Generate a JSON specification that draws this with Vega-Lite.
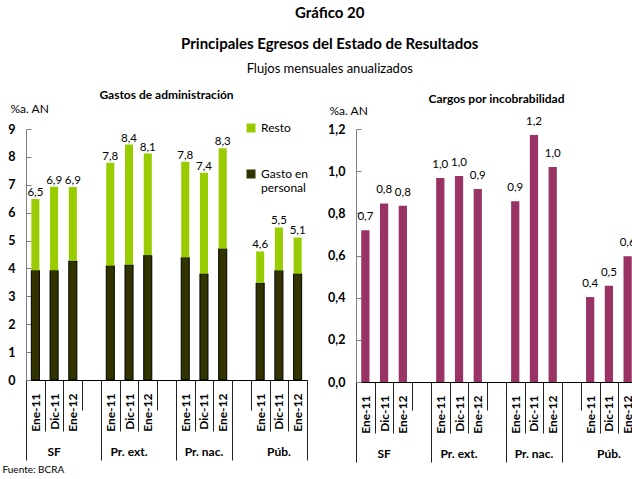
{
  "$schema": "https://vega.github.io/schema/vega-lite/v6.json",
  "padding": {"left": 2, "top": 6, "right": 0, "bottom": 0},
  "config": {
    "font": "Lato",
    "view": {"stroke": null},
    "locale": {"number": {"decimal": ",", "thousands": ".", "grouping": [3], "currency": ["$", ""]}},
    "axis": {"labelColor": "#000", "titleColor": "#000", "grid": false},
    "title": {"color": "#000", "subtitleColor": "#000"}
  },
  "title": {
    "text": ["Gráfico 20", "Principales Egresos del Estado de Resultados"],
    "subtitle": "Flujos mensuales anualizados",
    "fontSize": 15, "fontWeight": "bold", "lineHeight": 31,
    "subtitleFontSize": 13, "subtitleFontWeight": "normal", "subtitlePadding": 11,
    "anchor": "middle", "dx": 10, "offset": 13
  },
  "spacing": 19,
  "datasets": {
    "gastos": [
      {"grupo": "SF", "mes": "Ene-11", "personal": 3.93, "total": 6.49},
      {"grupo": "SF", "mes": "Dic-11", "personal": 3.93, "total": 6.93},
      {"grupo": "SF", "mes": "Ene-12", "personal": 4.27, "total": 6.92},
      {"grupo": "Pr. ext.", "mes": "Ene-11", "personal": 4.10, "total": 7.79},
      {"grupo": "Pr. ext.", "mes": "Dic-11", "personal": 4.13, "total": 8.44},
      {"grupo": "Pr. ext.", "mes": "Ene-12", "personal": 4.47, "total": 8.12},
      {"grupo": "Pr. nac.", "mes": "Ene-11", "personal": 4.39, "total": 7.83},
      {"grupo": "Pr. nac.", "mes": "Dic-11", "personal": 3.81, "total": 7.43},
      {"grupo": "Pr. nac.", "mes": "Ene-12", "personal": 4.71, "total": 8.31},
      {"grupo": "Púb.", "mes": "Ene-11", "personal": 3.48, "total": 4.61},
      {"grupo": "Púb.", "mes": "Dic-11", "personal": 3.93, "total": 5.47},
      {"grupo": "Púb.", "mes": "Ene-12", "personal": 3.81, "total": 5.11}
    ],
    "cargos": [
      {"grupo": "SF", "mes": "Ene-11", "valor": 0.72},
      {"grupo": "SF", "mes": "Dic-11", "valor": 0.847},
      {"grupo": "SF", "mes": "Ene-12", "valor": 0.836},
      {"grupo": "Pr. ext.", "mes": "Ene-11", "valor": 0.968},
      {"grupo": "Pr. ext.", "mes": "Dic-11", "valor": 0.977},
      {"grupo": "Pr. ext.", "mes": "Ene-12", "valor": 0.916},
      {"grupo": "Pr. nac.", "mes": "Ene-11", "valor": 0.857},
      {"grupo": "Pr. nac.", "mes": "Dic-11", "valor": 1.172},
      {"grupo": "Pr. nac.", "mes": "Ene-12", "valor": 1.02},
      {"grupo": "Púb.", "mes": "Ene-11", "valor": 0.403},
      {"grupo": "Púb.", "mes": "Dic-11", "valor": 0.456},
      {"grupo": "Púb.", "mes": "Ene-12", "valor": 0.596}
    ]
  },
  "hconcat": [
    {
      "width": 281, "height": 251,
      "title": {"text": "Gastos de administración", "fontSize": 12, "fontWeight": "bold", "offset": 0},
      "data": {"name": "gastos"},
      "transform": [{"calculate": "datum.grupo + '|' + datum.mes", "as": "cat"}],
      "layer": [
        {
          "mark": {"type": "bar", "width": {"band": 0.43}, "stroke": "#000", "strokeWidth": 1},
          "encoding": {
            "x": {
              "field": "cat", "type": "nominal",
              "scale": {"domain": ["SF|Ene-11", "SF|Dic-11", "SF|Ene-12", "b1", "Pr. ext.|Ene-11", "Pr. ext.|Dic-11", "Pr. ext.|Ene-12", "b2", "Pr. nac.|Ene-11", "Pr. nac.|Dic-11", "Pr. nac.|Ene-12", "b3", "Púb.|Ene-11", "Púb.|Dic-11", "Púb.|Ene-12"], "paddingInner": 0, "paddingOuter": 0},
              "axis": {
                "orient": "bottom", "title": null, "tickBand": "extent",
                "labelAngle": -90, "labelFontWeight": "bold", "labelFontSize": 12,
                "labelOverlap": false, "labelFlush": false,
                "labelExpr": "isString(datum.value) && indexof(datum.value, '|') >= 0 ? split(datum.value, '|')[1] : ''",
                "domainColor": "#000", "tickColor": "#222",
                "tickSize": {"condition": [
                  {"test": "datum.index === -1 || indexof(['b1','b2','Pr. nac.|Ene-12','Púb.|Ene-12'], datum.value) >= 0", "value": 80},
                  {"test": "indexof(['SF|Ene-12','Pr. ext.|Ene-12','b3'], datum.value) >= 0", "value": 30}
                ], "value": 51},
                "labelPadding": {"condition": [
                  {"test": "datum.index === -1 || indexof(['b1','b2','Pr. nac.|Ene-12','Púb.|Ene-12'], datum.value) >= 0", "value": -67},
                  {"test": "indexof(['SF|Ene-12','Pr. ext.|Ene-12','b3'], datum.value) >= 0", "value": -17}
                ], "value": -38}
              }
            },
            "y": {
              "field": "personal", "type": "quantitative", "title": "%a. AN",
              "scale": {"domain": [0, 9]},
              "axis": {
                "values": [0, 1, 2, 3, 4, 5, 6, 7, 8, 9], "format": "d", "labelOverlap": false,
                "labelFontWeight": "bold", "labelFontSize": 12.5,
                "tickSize": -5, "labelPadding": 16,
                "domainColor": "#808080", "tickColor": "#808080",
                "titleAngle": 0, "titleAlign": "left", "titleBaseline": "alphabetic",
                "titleX": -16, "titleY": -17, "titleFontWeight": "normal", "titleFontSize": 12
              }
            },
            "color": {
              "datum": "Gasto en personal",
              "scale": {"domain": ["Resto", "Gasto en personal"], "range": ["#99CC00", "#333300"]},
              "legend": {
                "orient": "none", "legendX": 219, "legendY": -7, "title": null,
                "symbolType": "square", "symbolSize": 81, "symbolStrokeWidth": 0,
                "labelFontSize": 12, "labelColor": "#000", "labelLimit": 200,
                "rowPadding": 34,
                "labelExpr": "datum.label == 'Gasto en personal' ? ['Gasto en', 'personal'] : datum.label"
              }
            }
          }
        },
        {
          "mark": {"type": "bar", "width": {"band": 0.43}},
          "encoding": {
            "x": {
              "field": "cat", "type": "nominal",
              "axis": {
                "orient": "bottom", "domain": false, "ticks": false,
                "labelAngle": 0, "labelFontWeight": "bold", "labelFontSize": 12,
                "labelOverlap": false, "labelFlush": false, "labelPadding": 66,
                "labelExpr": "isString(datum.value) && indexof(datum.value, '|Dic-11') >= 0 ? split(datum.value, '|')[0] : ''",
                "title": "Fuente: BCRA", "titleFontSize": 10, "titleFontWeight": "normal",
                "titleX": -24, "titleY": 92, "titleAlign": "left", "titleBaseline": "alphabetic"
              }
            },
            "y": {"field": "personal", "type": "quantitative", "axis": null},
            "y2": {"field": "total"},
            "color": {"datum": "Resto"}
          }
        },
        {
          "mark": {"type": "text", "baseline": "bottom", "dy": -1, "fontSize": 11.5, "color": "#000"},
          "encoding": {
            "x": {"field": "cat", "type": "nominal", "axis": null},
            "y": {"field": "total", "type": "quantitative", "axis": null},
            "text": {"field": "total", "type": "quantitative", "format": ".1f"}
          }
        }
      ],
      "resolve": {"axis": {"x": "independent", "y": "independent"}}
    },
    {
      "width": 281, "height": 253,
      "title": {"text": "Cargos por incobrabilidad", "fontSize": 12, "fontWeight": "bold", "offset": -2},
      "data": {"name": "cargos"},
      "transform": [{"calculate": "datum.grupo + '|' + datum.mes", "as": "cat"}],
      "layer": [
        {
          "mark": {"type": "bar", "width": {"band": 0.44}, "color": "#993366"},
          "encoding": {
            "x": {
              "field": "cat", "type": "nominal",
              "scale": {"domain": ["SF|Ene-11", "SF|Dic-11", "SF|Ene-12", "b1", "Pr. ext.|Ene-11", "Pr. ext.|Dic-11", "Pr. ext.|Ene-12", "b2", "Pr. nac.|Ene-11", "Pr. nac.|Dic-11", "Pr. nac.|Ene-12", "b3", "Púb.|Ene-11", "Púb.|Dic-11", "Púb.|Ene-12"], "paddingInner": 0, "paddingOuter": 0},
              "axis": {
                "orient": "bottom", "title": null, "tickBand": "extent",
                "labelAngle": -90, "labelFontWeight": "bold", "labelFontSize": 12,
                "labelOverlap": false, "labelFlush": false,
                "labelExpr": "isString(datum.value) && indexof(datum.value, '|') >= 0 ? split(datum.value, '|')[1] : ''",
                "domainColor": "#000", "tickColor": "#222",
                "tickSize": {"condition": [
                  {"test": "datum.index === -1 || indexof(['b1','b2','Pr. nac.|Ene-12','Púb.|Ene-12'], datum.value) >= 0", "value": 80},
                  {"test": "indexof(['SF|Ene-12','Pr. ext.|Ene-12','b3'], datum.value) >= 0", "value": 28}
                ], "value": 51},
                "labelPadding": {"condition": [
                  {"test": "datum.index === -1 || indexof(['b1','b2','Pr. nac.|Ene-12','Púb.|Ene-12'], datum.value) >= 0", "value": -67},
                  {"test": "indexof(['SF|Ene-12','Pr. ext.|Ene-12','b3'], datum.value) >= 0", "value": -15}
                ], "value": -38}
              }
            },
            "y": {
              "field": "valor", "type": "quantitative", "title": "%a. AN",
              "scale": {"domain": [0, 1.2]},
              "axis": {
                "values": [0, 0.2, 0.4, 0.6, 0.8, 1.0, 1.2], "format": ".1f", "labelOverlap": false,
                "labelFontWeight": "bold", "labelFontSize": 12.5,
                "tickSize": -5, "labelPadding": 16,
                "domainColor": "#808080", "tickColor": "#808080",
                "titleAngle": 0, "titleAlign": "left", "titleBaseline": "alphabetic",
                "titleX": -27, "titleY": -15, "titleFontWeight": "normal", "titleFontSize": 12
              }
            }
          }
        },
        {
          "mark": {"type": "text", "baseline": "bottom", "dy": -8, "fontSize": 11.5, "color": "#000"},
          "encoding": {
            "x": {
              "field": "cat", "type": "nominal",
              "axis": {
                "orient": "bottom", "domain": false, "ticks": false, "title": null,
                "labelAngle": 0, "labelFontWeight": "bold", "labelFontSize": 12,
                "labelOverlap": false, "labelFlush": false, "labelPadding": 66,
                "labelExpr": "isString(datum.value) && indexof(datum.value, '|Dic-11') >= 0 ? split(datum.value, '|')[0] : ''"
              }
            },
            "y": {"field": "valor", "type": "quantitative", "axis": null},
            "text": {"field": "valor", "type": "quantitative", "format": ".1f"}
          }
        }
      ],
      "resolve": {"axis": {"x": "independent", "y": "independent"}}
    }
  ]
}
